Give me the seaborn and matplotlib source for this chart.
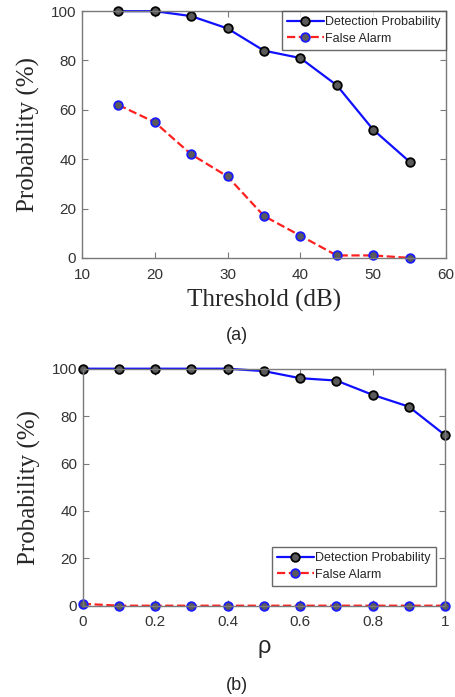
import matplotlib
matplotlib.use("Agg")
import matplotlib.pyplot as plt
import numpy as np
import pandas as pd
import seaborn as sns

# panel (a)
threshold = [15, 20, 25, 30, 35, 40, 45, 50, 55]
det_a = [100, 100, 98, 93, 84, 81, 70, 52, 39]
fa_a = [62, 55, 42, 33, 17, 9, 1, 1, 0]

# panel (b)
rho = [0, 0.1, 0.2, 0.3, 0.4, 0.5, 0.6, 0.7, 0.8, 0.9, 1.0]
det_b = [100, 100, 100, 100, 100, 99, 96, 95, 89, 84, 72]
fa_b = [0.8, 0, 0, 0, 0, 0, 0, 0, 0, 0, 0]

sns.set_style("white")
plt.rcParams['font.family'] = ['Liberation Sans', 'DejaVu Sans']

fig = plt.figure(figsize=(4.55, 6.97), dpi=100)
ax1 = fig.add_axes([0.180, 0.630, 0.800, 0.354])
ax2 = fig.add_axes([0.182, 0.131, 0.796, 0.340])

det_kw = dict(color='#1010ff', linestyle='-', marker='o', markersize=6.2,
              markerfacecolor='#5a5a5a', markeredgecolor='black', markeredgewidth=1.3, linewidth=1.6)
fa_kw = dict(color='#ff2020', linestyle='--', marker='o', markersize=6.2,
             markerfacecolor='#5a5a5a', markeredgecolor='#1a1aff', markeredgewidth=1.3, linewidth=1.6,
             dashes=(4, 3))


def style_axes(ax):
    for s in ax.spines.values():
        s.set_color('#7a7a7a')
        s.set_linewidth(1.0)
        s.set_visible(True)
    ax.tick_params(direction='in', length=4, width=0.8, color='#7a7a7a',
                   labelsize=11, labelcolor='#333333', top=True, right=True,
                   bottom=True, left=True)
    ax.tick_params(axis='x', pad=7)
    ax.tick_params(axis='y', pad=4)
    ax.grid(False)


sns.lineplot(x=threshold, y=det_a, ax=ax1, label='Detection Probability', **det_kw)
sns.lineplot(x=threshold, y=fa_a, ax=ax1, label='False Alarm', **fa_kw)
ax1.set_xlim(10, 60)
ax1.set_ylim(0, 100)
ax1.set_xticks([10, 20, 30, 40, 50, 60])
ax1.set_yticks([0, 20, 40, 60, 80, 100])
style_axes(ax1)
ax1.set_xlabel('Threshold (dB)', family='Liberation Serif', fontsize=18, labelpad=5)
ax1.set_ylabel('Probability (%)', family='Liberation Serif', fontsize=18, labelpad=8)
leg1 = ax1.legend(loc='upper right', fontsize=9, frameon=True, fancybox=False,
                  borderpad=0.4, handlelength=3.0, handletextpad=0.1, labelspacing=0.35,
                  borderaxespad=0.0)
leg1.get_frame().set_edgecolor('#444444')

sns.lineplot(x=rho, y=det_b, ax=ax2, label='Detection Probability', **det_kw)
sns.lineplot(x=rho, y=fa_b, ax=ax2, label='False Alarm', **fa_kw)
ax2.set_xlim(0, 1)
ax2.set_ylim(0, 100)
ax2.set_xticks([0, 0.2, 0.4, 0.6, 0.8, 1.0])
ax2.set_xticklabels(['0', '0.2', '0.4', '0.6', '0.8', '1'])
ax2.set_yticks([0, 20, 40, 60, 80, 100])
style_axes(ax2)
ax2.set_xlabel('ρ', fontsize=17, labelpad=5)
ax2.set_ylabel('Probability (%)', family='Liberation Serif', fontsize=18, labelpad=8)
leg2 = ax2.legend(loc='lower right', bbox_to_anchor=(0.975, 0.085), fontsize=9, frameon=True,
                  fancybox=False, borderpad=0.4, handlelength=3.0, handletextpad=0.1,
                  labelspacing=0.35, borderaxespad=0.0)
leg2.get_frame().set_edgecolor('#444444')

for ax in (ax1, ax2):
    for ln in ax.get_lines():
        ln.set_clip_on(False)

fig.text(0.52, 1 - 335 / 697, '(a)', ha='center', va='center', fontsize=13)
fig.text(0.52, 1 - 685 / 697, '(b)', ha='center', va='center', fontsize=13)

fig.savefig('out.png', dpi=100)
